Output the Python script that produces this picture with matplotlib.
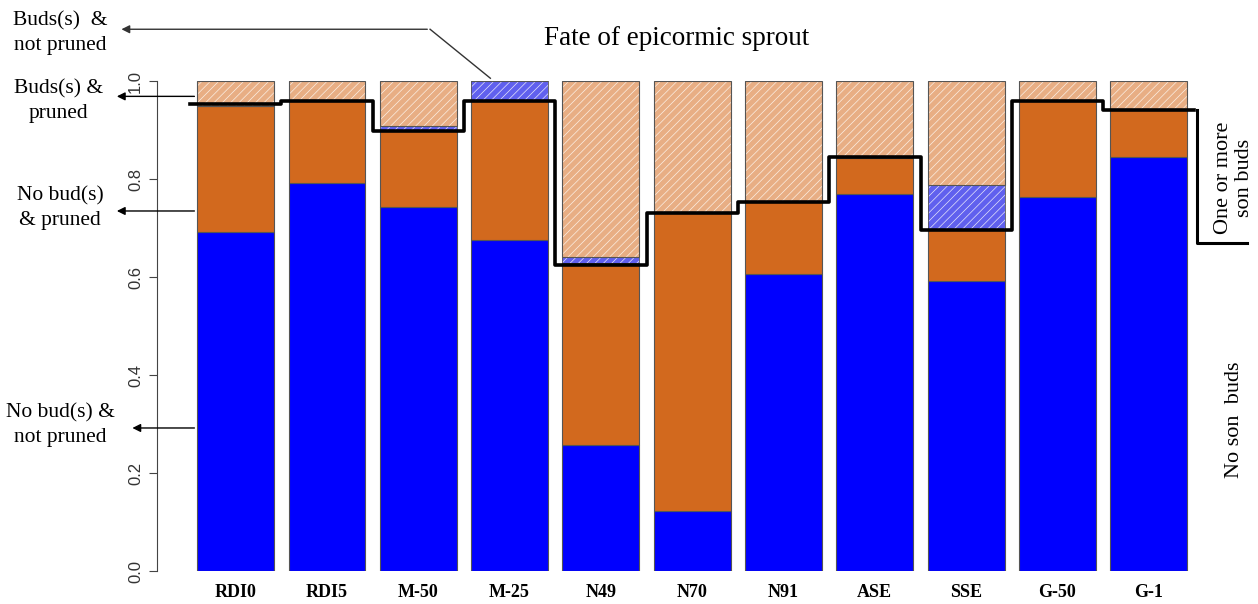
import numpy as np
import matplotlib.pyplot as plt

plt.rcParams['hatch.linewidth'] = 0.5

groups = ['RDI0', 'RDI5', 'M-50', 'M-25', 'N49', 'N70', 'N91', 'ASE', 'SSE', 'G-50', 'G-1']
nobud_notpruned = [0.692, 0.792, 0.743, 0.676, 0.257, 0.122, 0.606, 0.769, 0.592, 0.763, 0.845]
nobud_pruned = [0.257, 0.167, 0.155, 0.283, 0.372, 0.609, 0.149, 0.074, 0.104, 0.196, 0.096]
buds_pruned = [0.0, 0.0, 0.010, 0.041, 0.012, 0.0, 0.0, 0.0, 0.092, 0.0, 0.0]
buds_notpruned = [1 - a - b - c for a, b, c in zip(nobud_notpruned, nobud_pruned, buds_pruned)]
# proportion without son buds (step line)
no_son_buds = [0.953, 0.959, 0.898, 0.959, 0.625, 0.731, 0.753, 0.845, 0.696, 0.959, 0.941]
line_end = 0.669

yticks = [0.0, 0.2, 0.4, 0.6, 0.8, 1.0]

fig = plt.figure(figsize=(12.58, 6.04), dpi=100)
ax = fig.add_axes([0.1248, 0.0546, 0.869, 0.811])

x = np.arange(len(groups))
w = 0.84
edge = '#555555'

b1 = np.array(nobud_notpruned)
b2 = b1 + np.array(nobud_pruned)
b3 = b2 + np.array(buds_pruned)

ax.bar(x, nobud_notpruned, w, color='#0000FF', edgecolor=edge, linewidth=0.8)
ax.bar(x, nobud_pruned, w, bottom=b1, color='#D2691E', edgecolor=edge, linewidth=0.8)
ax.bar(x, buds_pruned, w, bottom=b2, color='#6060EE', edgecolor='#E6E6FA', hatch='////', linewidth=0)
ax.bar(x, buds_pruned, w, bottom=b2, fill=False, edgecolor=edge, linewidth=0.6)
ax.bar(x, buds_notpruned, w, bottom=b3, color='#E8AE84', edgecolor='#FBEFE4', hatch='////', linewidth=0)
ax.bar(x, buds_notpruned, w, bottom=b3, fill=False, edgecolor=edge, linewidth=0.8)

# step line separating no son buds / son buds
xs = np.concatenate([[x[0] - 0.5], x + 0.5])
ys = np.concatenate([no_son_buds, [no_son_buds[-1]]])
ax.step(xs, ys, where='post', color='black', lw=2.6, clip_on=False)
ax.plot([x[-1] + 0.53, x[-1] + 0.53, x[-1] + 1.07],
        [no_son_buds[-1], line_end, line_end], color='black', lw=2.2, clip_on=False)

ax.set_xlim(-0.86, 11.11)
ax.set_ylim(0, 1.0)
for s in ['top', 'right', 'bottom']:
    ax.spines[s].set_visible(False)
ax.spines['left'].set_bounds(0, 1)
ax.spines['left'].set_color('#444444')
ax.set_xticks(x)
ax.set_xticklabels(groups, fontfamily='Liberation Serif', fontweight='bold', fontsize=13)
ax.tick_params(axis='x', length=0, pad=9)
ax.set_yticks(yticks)
ax.set_yticklabels([f'{v:.1f}' for v in yticks], rotation=90, va='center',
                   fontfamily='Liberation Sans', fontsize=12, color='#333333')
ax.tick_params(axis='y', length=6, color='#444444', pad=4)

serif = 'Liberation Serif'
fig.text(0.538, 0.937, 'Fate of epicormic sprout', fontfamily=serif, fontsize=19.5,
         ha='center', va='center')

arrow = dict(arrowstyle='-|>', color='black', lw=1.0, mutation_scale=12)
ax.plot([2.79, 2.13], [1.006, 1.106], color='#333333', lw=1.0, clip_on=False)
ax.annotate('', xy=(-1.28, 1.106), xytext=(2.13, 1.106), xycoords='data',
            arrowprops=dict(arrowstyle='-|>', color='#333333', lw=1.0, mutation_scale=12),
            annotation_clip=False)
ax.text(-1.92, 1.098, 'Buds(s)  &\nnot pruned', fontfamily=serif, fontsize=15.5,
        ha='center', va='center', linespacing=1.4)

ax.annotate('', xy=(-1.33, 0.969), xytext=(-0.42, 0.969), arrowprops=arrow, annotation_clip=False)
ax.text(-1.94, 0.96, 'Buds(s) &\npruned', fontfamily=serif, fontsize=15.5,
        ha='center', va='center', linespacing=1.4)

ax.annotate('', xy=(-1.33, 0.735), xytext=(-0.42, 0.735), arrowprops=arrow, annotation_clip=False)
ax.text(-1.92, 0.741, 'No bud(s)\n& pruned', fontfamily=serif, fontsize=15.5,
        ha='center', va='center', linespacing=1.4)

ax.annotate('', xy=(-1.16, 0.292), xytext=(-0.42, 0.292), arrowprops=arrow, annotation_clip=False)
ax.text(-1.92, 0.298, 'No bud(s) &\nnot pruned', fontfamily=serif, fontsize=15.5,
        ha='center', va='center', linespacing=1.4)

fig.text(0.981, 0.705, 'One or more\nson buds', fontfamily=serif, fontsize=16,
         rotation=90, ha='center', va='center', linespacing=1.1)
fig.text(0.981, 0.305, 'No son  buds', fontfamily=serif, fontsize=16,
         rotation=90, ha='center', va='center')

fig.savefig('out.png', dpi=100)
